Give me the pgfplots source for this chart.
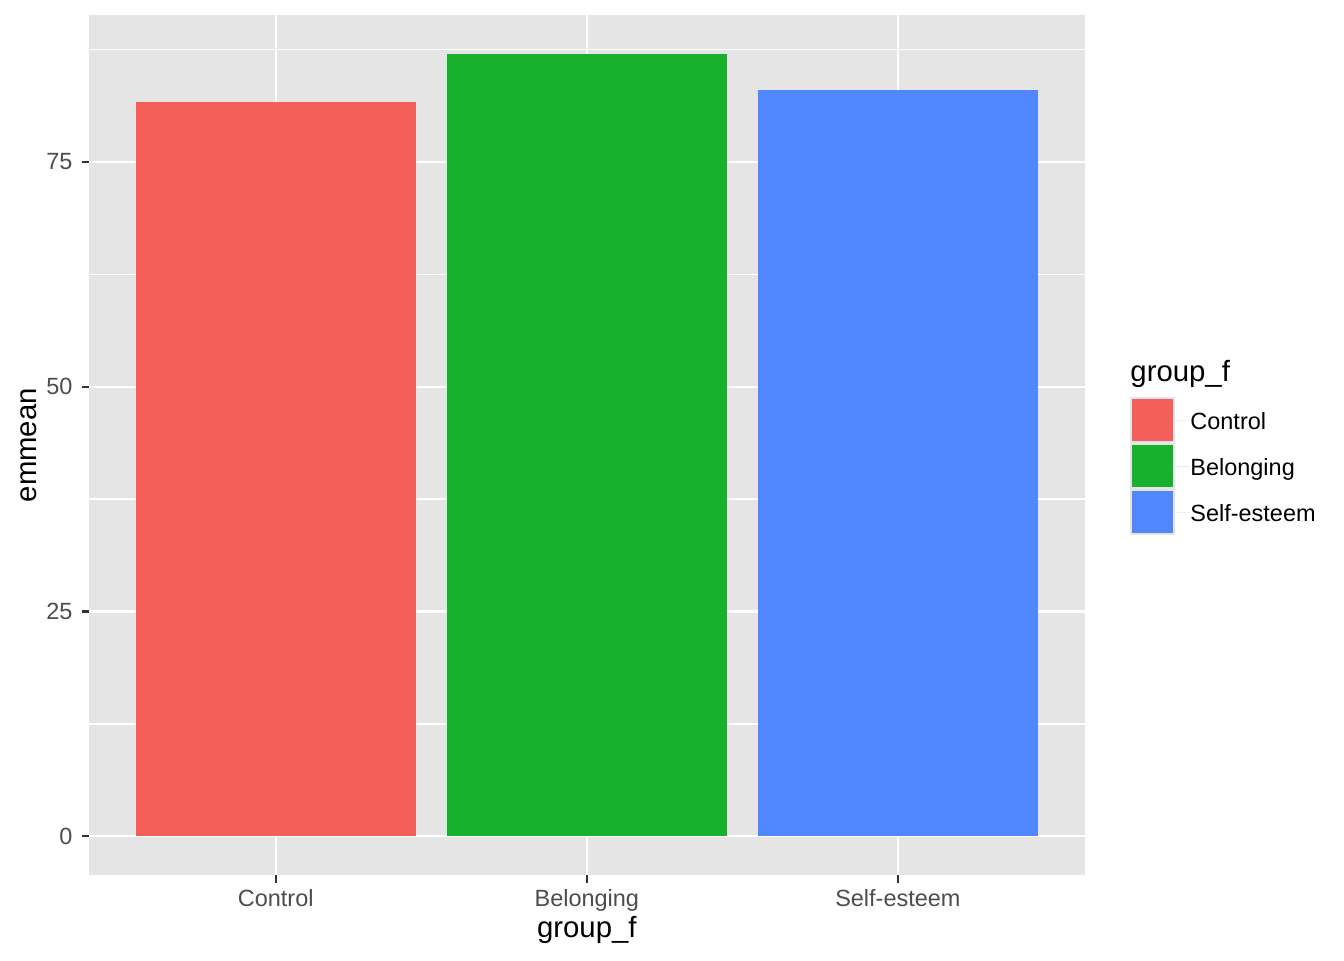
\documentclass[border=0pt]{standalone}
\usepackage{fontspec}
\setmainfont{Liberation Sans}
\usepackage{pgfplots}
\pgfplotsset{compat=1.18}
\definecolor{panel}{HTML}{E5E5E5}
\definecolor{cA}{HTML}{F45F5A}
\definecolor{cB}{HTML}{17B12D}
\definecolor{cC}{HTML}{5087FE}
\definecolor{tickc}{HTML}{333333}
\definecolor{labc}{HTML}{4D4D4D}
\newcommand{\keyimg}[1]{\path (0pt,0pt) rectangle (22.7pt,0pt); \fill[panel] (0pt,-8.625pt) rectangle (17pt,8.625pt); \fill[#1] (0.7pt,-7.9pt) rectangle (16.3pt,7.9pt);}
\begin{document}
\begin{tikzpicture}
\fill[white] (0,0) rectangle (504pt,360pt);
\useasboundingbox (0,0) rectangle (504pt,360pt);
\begin{axis}[
 at={(33.4pt,31.7pt)}, anchor=south west,
 scale only axis, width=373.3pt, height=322.7pt,
 xmin=0.4, xmax=3.6, ymin=-4.35, ymax=91.35,
 axis background/.style={fill=panel},
 axis line style={draw=none},
 xtick={1,2,3}, xticklabels={Control,Belonging,Self-esteem},
 ytick={0,25,50,75}, minor ytick={12.5,37.5,62.5,87.5},
 xmajorgrids, ymajorgrids, yminorgrids,
 major grid style={white, line width=0.8pt},
 minor grid style={white, line width=0.5pt},
 tick align=outside, tick pos=left,
 major tick length=2.75pt, minor tick length=0pt,
 tick style={tickc, line width=0.8pt},
 ticklabel style={font=\fontsize{8.8}{10}\selectfont, text=labc},
 /pgf/number format/assume math mode=true,
 yticklabel style={anchor=east, inner sep=0pt, xshift=-3.3pt},
 xticklabel style={anchor=base, inner sep=0pt, yshift=-9.0pt},
 xlabel={group\_f}, ylabel={emmean},
 every axis x label/.style={at={(axis description cs:0.5,-0.0722)}, anchor=base, inner sep=0pt, font=\fontsize{11}{13}\selectfont},
 every axis y label/.style={at={(axis description cs:-0.0533,0.5)}, rotate=90, anchor=base, inner sep=0pt, font=\fontsize{11}{13}\selectfont},
 legend style={at={(axis description cs:1.0456,0.5560)}, anchor=north west, draw=none, fill=none, inner sep=0pt, outer sep=0pt, row sep=0pt, column sep=0pt, nodes={inner sep=0pt, yshift=-1.1pt, font=\fontsize{8.8}{10}\selectfont}, name=leg},
 legend cell align=left,
]
\addplot[ybar, bar width=0.9, bar shift=0pt, fill=cA, draw=none, legend image code/.code={\keyimg{cA}}] coordinates {(1,81.7)};
\addlegendentry{Control}
\addplot[ybar, bar width=0.9, bar shift=0pt, fill=cB, draw=none, legend image code/.code={\keyimg{cB}}] coordinates {(2,87.0)};
\addlegendentry{Belonging}
\addplot[ybar, bar width=0.9, bar shift=0pt, fill=cC, draw=none, legend image code/.code={\keyimg{cC}}] coordinates {(3,83.0)};
\addlegendentry{Self-esteem}
\end{axis}
\node[anchor=base west, font=\fontsize{11}{13}\selectfont, inner sep=0pt] at ([yshift=6pt]leg.north west) {group\_f};
\end{tikzpicture}
\end{document}
